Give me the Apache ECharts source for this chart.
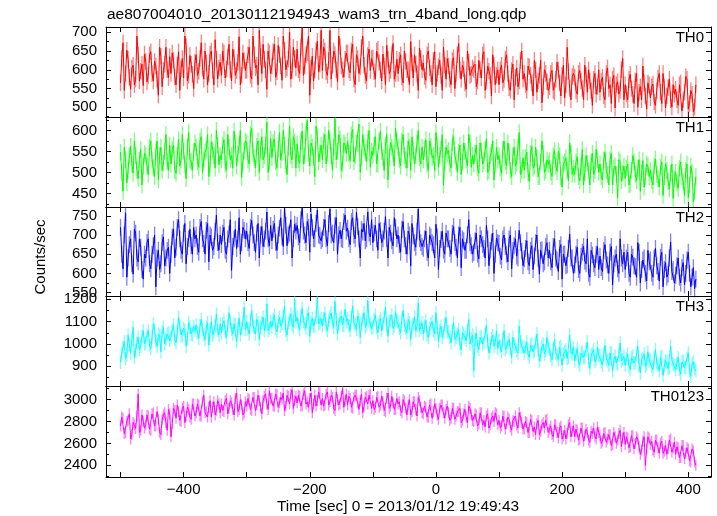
<!DOCTYPE html>
<html><head><meta charset="utf-8">
<script src="https://cdn.jsdelivr.net/npm/echarts@6/dist/echarts.min.js"></script>
<style>html,body{margin:0;padding:0;background:#fff}#c{width:717px;height:516px}</style>
</head><body><div id="c"></div>
<script>
// sampling grid of the light curves (seconds from 2013/01/12 19:49:43)
// "*" arrays: bins at T0 + k*DT ; "*Mid" arrays: bins at T0 + k*DT + DT/2
const T0 = -500, DT = 4;

const th0 = [
565,672,590,628,548,612,575,640,596,558,
622,585,648,570,610,532,636,598,660,579,
590,625,560,648,603,578,662,585,615,550,
640,596,672,575,618,590,650,560,628,605,
585,645,602,668,570,632,598,688,585,625,
598,660,575,640,612,705,590,628,548,645,
610,668,595,640,572,652,605,700,598,630,
655,590,712,610,645,532,636,600,676,615,
598,650,585,705,612,640,568,662,600,628,
645,592,668,560,630,608,690,585,638,598,
632,575,655,600,642,560,628,598,670,590,
590,640,565,622,600,675,578,615,545,630,
618,572,650,590,625,555,608,585,660,575,
610,560,632,590,670,575,602,548,620,588,
600,555,625,578,648,570,596,530,612,585,
560,612,575,640,552,598,520,605,570,650,
590,545,608,565,625,540,585,512,600,568,
555,598,540,620,565,585,525,660,550,582,
580,535,598,550,612,540,570,505,590,555,
540,580,520,605,560,575,498,568,545,630,
560,520,588,535,570,500,555,610,530,565,
525,562,505,578,540,590,498,552,520,560,
548,505,565,520,582,495,545,488,560];
const th0Mid = [
630,545,652,580,605,560,690,570,615,642,
568,640,590,622,575,660,555,615,600,635,
645,580,612,545,630,690,570,638,588,620,
585,630,605,650,560,642,598,680,575,620,
650,578,635,600,655,585,620,560,645,598,
640,585,690,605,560,635,668,600,650,590,
648,580,665,610,690,600,628,575,660,605,
600,660,585,640,690,605,570,650,595,705,
660,595,625,575,650,600,690,610,580,645,
600,650,575,640,590,660,612,570,655,630,
595,650,620,570,610,665,590,640,575,628,
625,580,650,600,560,618,640,590,658,600,
582,640,605,560,648,590,625,545,612,630,
575,625,550,640,600,612,565,650,585,605,
615,570,600,640,545,610,585,640,560,600,
600,565,628,590,545,615,580,555,625,575,
560,610,585,530,600,570,625,555,590,545,
590,545,575,600,530,612,560,595,520,590,
545,590,570,520,585,600,545,575,535,600,
570,530,590,550,510,585,560,535,600,520,
535,575,550,510,590,540,520,565,495,560,
555,515,545,590,510,555,530,575,500,535,
520,560,490,540,575,510,535,500];

const th1 = [
548,455,530,505,562,498,540,485,555,515,
540,495,575,510,548,482,560,522,590,505,
520,565,498,578,530,550,485,595,525,548,
560,512,585,530,555,490,572,540,600,518,
530,578,505,560,540,598,515,565,488,552,
570,520,605,535,562,500,585,540,620,525,
535,580,510,595,548,565,495,610,530,572,
568,522,598,540,625,515,560,490,585,545,
530,590,545,575,505,628,550,580,520,565,
575,528,602,540,568,500,590,548,575,512,
540,585,520,598,535,565,482,572,545,605,
560,515,590,530,575,505,552,540,600,520,
530,578,505,562,540,595,512,555,470,560,
552,510,585,525,548,495,570,530,590,512,
520,565,498,552,528,580,505,548,482,560,
540,498,575,515,548,490,560,522,595,505,
505,548,478,562,515,535,490,575,500,530,
528,490,552,502,540,465,525,505,570,495,
495,538,480,555,500,522,470,545,505,530,
520,482,548,495,530,470,515,440,525,498,
485,520,472,540,495,510,455,528,490,515,
505,470,532,485,512,445,520,478,498,438,
500,462,525,478,505,440,515,430,490];
const th1Mid = [
500,560,475,540,520,575,505,530,470,545,
515,560,530,490,575,540,505,550,525,565,
555,505,540,515,590,520,560,530,505,570,
525,575,500,548,590,520,555,510,565,540,
565,520,590,530,510,570,545,600,525,575,
530,590,545,510,575,555,530,565,500,580,
570,525,555,530,600,520,560,540,585,510,
530,575,520,595,545,570,535,610,525,565,
575,520,600,540,560,530,590,505,570,545,
545,590,525,570,615,535,560,525,600,550,
565,520,575,550,505,590,535,560,515,575,
530,575,540,510,560,585,520,570,535,560,
555,520,575,535,505,565,540,590,525,545,
520,570,540,500,565,525,550,515,570,540,
545,510,570,520,555,500,540,575,520,530,
510,555,525,570,505,540,515,560,495,535,
535,500,545,510,560,490,525,545,505,520,
500,540,515,550,490,520,535,480,545,510,
525,490,515,470,540,505,525,495,555,500,
490,530,505,470,545,510,495,530,480,515,
510,470,505,525,480,530,500,465,520,490,
480,515,495,465,525,490,505,460,520,485,
475,510,490,445,520,470,500,455];

const th2 = [
720,612,758,640,690,598,705,630,668,585,
640,690,612,672,565,660,625,695,640,668,
650,715,668,740,660,705,625,690,672,720,
700,655,735,678,712,630,695,670,752,660,
675,720,650,702,608,690,665,745,680,712,
710,665,738,680,705,640,722,690,760,672,
685,730,660,718,695,770,672,705,640,728,
725,680,773,700,735,655,720,690,765,698,
690,740,672,768,705,725,650,712,688,752,
718,675,745,690,722,640,708,685,760,695,
680,725,660,712,690,748,640,705,672,720,
700,655,735,672,710,620,698,668,768,680,
665,710,640,695,675,728,610,688,660,705,
690,650,722,668,700,615,685,660,740,672,
655,705,638,690,665,725,620,682,600,692,
678,635,700,650,690,612,672,645,712,658,
638,685,620,672,645,700,598,662,630,680,
660,615,690,635,665,585,650,622,702,640,
622,668,600,655,632,690,590,648,615,670,
645,605,675,622,655,570,640,612,690,625,
610,655,590,642,618,680,575,635,600,660,
635,590,665,605,642,565,628,598,682,610,
595,640,575,628,600,655,565,615,585];
const th2Mid = [
650,700,590,675,625,715,640,690,610,650,
680,625,650,700,640,610,680,620,660,600,
695,640,720,690,650,730,670,715,650,690,
670,720,690,650,730,700,660,710,680,700,
705,660,690,740,670,715,690,650,720,690,
680,720,700,655,730,700,670,710,690,725,
715,680,700,745,670,725,700,740,690,710,
695,740,710,680,720,755,690,730,700,685,
720,690,730,700,680,745,700,690,735,710,
690,735,700,760,690,715,730,690,705,740,
705,690,730,680,710,690,720,685,745,690,
675,715,690,650,700,730,680,710,690,670,
690,655,700,680,640,695,665,710,650,690,
665,705,680,640,720,690,660,700,680,650,
685,650,700,675,640,690,660,705,650,680,
645,690,670,630,700,660,690,640,680,620,
665,630,660,610,680,640,660,625,670,640,
630,670,640,605,675,650,620,665,640,600,
650,610,645,670,625,600,660,625,650,610,
615,660,635,600,670,625,650,600,640,655,
640,600,650,620,590,655,610,640,580,630,
600,640,620,580,655,610,590,640,605,575,
620,590,615,570,635,600,590,560];

const th3 = [
918,985,935,1040,960,1075,970,1030,990,1060,
1005,1060,980,1090,1010,1045,965,1075,1020,1050,
1030,1085,1005,1120,1040,1070,990,1095,1045,1080,
1085,1025,1110,1040,1075,995,1100,1055,1135,1040,
1050,1105,1030,1140,1065,1090,1010,1115,1070,1165,
1100,1045,1150,1075,1110,1020,1095,1060,1180,1070,
1075,1130,1055,1120,1090,1170,1040,1110,1085,1200,
1120,1065,1160,1090,1130,1035,1115,1080,1210,1095,
1080,1140,1060,1125,1095,1190,1045,1115,1085,1155,
1115,1060,1170,1085,1125,1030,1110,1075,1195,1090,
1075,1130,1050,1115,1090,1165,1035,1105,1070,1145,
1100,1050,1150,1070,1110,1020,1090,1060,1185,1075,
1045,1105,1030,1090,1060,1140,1010,1080,1050,1120,
1055,1005,1095,1030,1065,975,1045,1015,1110,1025,
880,1050,975,1035,1005,1085,960,1025,990,1060,
1015,965,1060,985,1020,940,1000,970,1080,990,
960,1010,940,1000,970,1045,925,990,955,1030,
975,930,1020,950,985,905,965,935,1040,955,
925,980,905,965,940,1010,890,955,920,985,
950,905,995,925,960,880,945,910,1005,930,
905,955,885,945,915,990,870,935,900,965,
930,885,975,905,940,860,925,890,990,910,
885,940,865,925,895,960,855,920,880];
const th3Mid = [
960,1010,950,995,1020,940,1005,975,1035,1000,
1040,995,1030,1065,990,1035,1055,1000,1045,1015,
1065,1020,1055,1080,1035,1060,1025,1075,1040,1060,
1050,1080,1065,1020,1095,1060,1040,1080,1060,1090,
1090,1055,1080,1100,1045,1085,1070,1040,1095,1065,
1065,1105,1080,1045,1095,1075,1120,1085,1060,1100,
1110,1070,1100,1080,1125,1060,1095,1135,1075,1100,
1085,1125,1100,1070,1140,1095,1080,1120,1090,1115,
1115,1080,1105,1140,1075,1110,1090,1125,1080,1100,
1080,1120,1095,1065,1110,1090,1140,1085,1105,1070,
1110,1075,1100,1060,1120,1085,1100,1130,1080,1105,
1070,1110,1085,1050,1095,1075,1120,1080,1060,1095,
1080,1040,1070,1100,1045,1075,1060,1030,1085,1055,
1030,1060,1020,1045,1000,1050,1030,1060,1000,1040,
1020,990,1030,1000,1045,1010,990,1040,1005,980,
990,1020,975,1005,980,1030,990,960,1010,985,
985,955,995,965,1005,975,950,1000,970,990,
945,980,960,930,990,955,975,940,965,985,
955,920,960,940,975,925,950,975,930,950,
920,955,935,905,960,930,915,950,925,945,
935,900,940,915,950,905,930,955,910,925,
900,935,915,880,945,905,920,895,930,905,
915,885,920,895,935,880,910,890];

const th0123 = [
2760,2830,2700,2810,2640,2790,2735,3050,2720,2800,
2770,2850,2720,2880,2760,2820,2680,2860,2790,2910,
2660,2920,2830,2890,2800,2940,2850,2910,2820,2960,
2880,2950,2850,3040,2890,2930,2840,2980,2900,2960,
2960,2890,3010,2920,2970,2860,3060,2910,2950,2880,
2940,3000,2900,3020,2950,2990,2870,3030,2960,3080,
3010,2940,3050,2970,3000,2900,3040,2960,3090,2990,
2970,3030,2940,3080,2980,3010,2880,3040,2990,3060,
3010,2950,3070,2980,3020,2900,3000,2960,3100,2990,
2950,3010,2920,3040,2970,2990,2880,3020,2960,3050,
2990,2930,3030,2950,2980,2890,3060,2940,2970,2910,
2960,2900,3000,2920,2950,2860,2980,2910,3020,2930,
2870,2930,2840,2960,2890,2920,2820,2950,2880,2910,
2880,2830,2920,2850,2890,2790,2870,2840,2940,2860,
2800,2860,2780,2880,2810,2850,2740,2830,2800,2870,
2810,2760,2850,2780,2820,2720,2800,2770,2880,2790,
2730,2790,2700,2810,2750,2780,2680,2770,2740,2820,
2730,2680,2770,2700,2740,2640,2720,2690,2790,2710,
2660,2720,2640,2740,2670,2700,2610,2690,2660,2750,
2670,2620,2700,2640,2680,2590,2660,2630,2720,2650,
2590,2650,2570,2670,2600,2640,2500,2620,2400,2660,
2590,2540,2630,2560,2600,2510,2580,2550,2640,2560,
2500,2560,2470,2580,2510,2550,2430,2530,2400];
const th0123Mid = [
2840,2690,2800,2870,2680,2770,2850,2700,2860,2740,
2860,2730,2870,2760,2890,2700,2820,2880,2720,2870,
2780,2900,2950,2810,2920,2790,2930,2840,2960,2850,
2960,2850,2980,2880,2840,2990,2930,2860,2990,2880,
2900,2990,2870,2990,2910,3010,2890,3000,2860,2980,
3010,2910,3020,2900,3040,2930,2990,3050,2910,3010,
2940,3050,2930,3020,3060,2940,3030,3050,2920,3030,
3040,2940,3050,2960,2930,3060,2960,2940,3070,2950,
2940,3050,2950,3040,2920,3070,2950,3030,2930,3050,
3030,2930,3020,3040,2910,3050,2940,3030,3040,2920,
2910,3020,2930,3030,2900,3010,2920,3030,2910,3010,
2980,2880,2990,2860,3000,2890,2980,2850,2990,2880,
2940,2840,2950,2830,2960,2860,2920,2950,2830,2940,
2810,2920,2820,2890,2920,2810,2910,2790,2920,2810,
2870,2760,2880,2770,2750,2870,2770,2850,2880,2770,
2740,2850,2730,2840,2750,2810,2850,2740,2840,2730,
2800,2700,2820,2710,2680,2810,2710,2790,2810,2700,
2760,2660,2770,2650,2760,2670,2640,2770,2660,2760,
2730,2630,2740,2620,2730,2630,2710,2740,2640,2700,
2600,2690,2610,2680,2580,2700,2600,2690,2570,2700,
2660,2560,2670,2550,2660,2570,2540,2660,2550,2650,
2620,2520,2630,2510,2620,2530,2500,2630,2520,2610,
2570,2470,2580,2460,2560,2440,2550,2430];

// 1-sigma error bar half-length of each band (counts/sec)
const panelErr = [22, 20, 22, 30, 50];

const panelNames = ['TH0', 'TH1', 'TH2', 'TH3', 'TH0123'];
const panelColors = ['#ff0000', '#00ff00', '#0000ff', '#00ffff', '#ff00ff'];
const panelData = [[th0, th0Mid], [th1, th1Mid], [th2, th2Mid], [th3, th3Mid], [th0123, th0123Mid]];
const yMin = [474, 417.5, 541, 812, 2293];
const yMax = [714, 632, 773, 1215, 3124];
const yMajorTicks = [
  [500, 550, 600, 650, 700],
  [450, 500, 550, 600],
  [550, 600, 650, 700, 750],
  [900, 1000, 1100, 1200],
  [2400, 2600, 2800, 3000]
];
const yMinorStep = [25, 25, 25, 50, 100];
const xMin = -523, xMax = 436;
const xTickValues = [-500, -400, -300, -200, -100, 0, 100, 200, 300, 400];
const xLabelValues = [-400, -200, 0, 200, 400];
const titleText = 'ae807004010_20130112194943_wam3_trn_4band_long.qdp';
const xTitle = 'Time [sec] 0 = 2013/01/12 19:49:43';
const yTitle = 'Counts/sec';

const FONT = '"Liberation Sans", Arial, sans-serif';
const gridTops = [27, 117, 207, 296, 386];
const gridBottoms = [117, 207, 296, 386, 477];

const grids = [], xAxes = [], yAxes = [], series = [], graphics = [];
const lineStyle = {color: '#000', width: 1};

function buildPoints(pair) {
  const [even, mid] = pair, out = [];
  for (let k = 0; k < even.length; k++) {
    out.push([T0 + k * DT, even[k]]);
    if (k < mid.length) out.push([T0 + k * DT + DT / 2, mid[k]]);
  }
  return out;
}

for (let i = 0; i < 5; i++) {
  grids.push({left: 106, width: 605, top: gridTops[i], height: gridBottoms[i] - gridTops[i], containLabel: false});
  const minors = [];
  const st = yMinorStep[i];
  for (let v = Math.ceil(yMin[i] / st) * st; v <= yMax[i]; v += st) {
    if (yMajorTicks[i].indexOf(v) < 0) minors.push(v);
  }
  ['bottom', 'top'].forEach(pos => {
    xAxes.push({
      type: 'value', gridIndex: i, position: pos, min: xMin, max: xMax,
      axisLine: {show: true, onZero: false, lineStyle},
      axisTick: {show: true, inside: true, length: 5, customValues: xTickValues, lineStyle},
      axisLabel: {show: (i === 4 && pos === 'bottom'), customValues: xLabelValues, margin: 5,
        fontFamily: FONT, fontSize: 15, color: '#000',
        formatter: v => v < 0 ? '\u2212' + Math.abs(v) : String(v)},
      splitLine: {show: false}
    });
  });
  ['left', 'right'].forEach(pos => {
    yAxes.push({
      type: 'value', gridIndex: i, position: pos, min: yMin[i], max: yMax[i],
      axisLine: {show: true, onZero: false, lineStyle},
      axisTick: {show: true, inside: true, length: 5, customValues: yMajorTicks[i], lineStyle},
      axisLabel: {show: pos === 'left', customValues: yMajorTicks[i], margin: 9,
        fontFamily: FONT, fontSize: 15, color: '#000', formatter: v => String(v)},
      splitLine: {show: false}
    });
    yAxes.push({
      type: 'value', gridIndex: i, position: pos, min: yMin[i], max: yMax[i],
      axisLine: {show: false, onZero: false},
      axisTick: {show: true, inside: true, length: 3, customValues: minors, lineStyle},
      axisLabel: {show: false},
      splitLine: {show: false}
    });
  });
  const col = panelColors[i];
  const pts = buildPoints(panelData[i]);
  series.push({
    type: 'custom', coordinateSystem: 'cartesian2d', xAxisIndex: 2 * i, yAxisIndex: 4 * i,
    data: pts.map(p => [p[0], p[1], panelErr[i]]),
    silent: true, animation: false, clip: true, z: 1,
    renderItem: (params, api) => {
      const t = api.value(0), v = api.value(1), e = api.value(2);
      const a = api.coord([t, v - e]), b = api.coord([t, v + e]);
      return {type: 'line', shape: {x1: a[0], y1: a[1], x2: b[0], y2: b[1]},
        style: {stroke: col, opacity: 0.5, lineWidth: 1.3}};
    }
  });
  series.push({
    type: 'line', xAxisIndex: 2 * i, yAxisIndex: 4 * i,
    data: pts,
    showSymbol: false, symbol: 'none', silent: true, animation: false,
    lineStyle: {color: col, width: 1}, z: 2
  });
  graphics.push({
    type: 'text', z: 10,
    style: {x: 704, y: gridTops[i] + 11, text: panelNames[i], textAlign: 'right', textVerticalAlign: 'middle',
      font: '15px ' + FONT, fill: '#000'}
  });
}

graphics.push({type: 'text', style: {x: 107, y: 15, text: titleText, textAlign: 'left', textVerticalAlign: 'middle', font: '15.5px ' + FONT, fill: '#000'}});
graphics.push({type: 'text', style: {x: 398, y: 506.5, text: xTitle, textAlign: 'center', textVerticalAlign: 'middle', font: '15.4px ' + FONT, fill: '#000'}});
graphics.push({type: 'text', x: 41, y: 257, rotation: Math.PI / 2,
  style: {x: 0, y: 0, text: yTitle, textAlign: 'center', textVerticalAlign: 'middle', font: '15px ' + FONT, fill: '#000'}});

const chart = echarts.init(document.getElementById('c'), null, {renderer: 'canvas'});
chart.setOption({
  animation: false,
  backgroundColor: '#fff',
  grid: grids, xAxis: xAxes, yAxis: yAxes, series: series,
  graphic: graphics
});
</script></body></html>
